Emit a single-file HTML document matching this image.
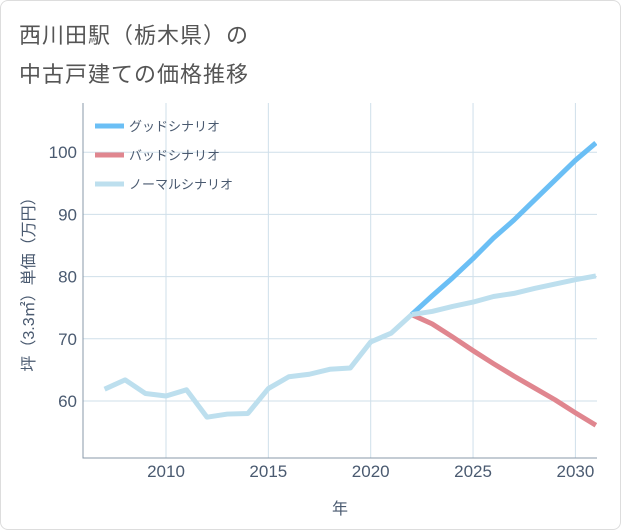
<!DOCTYPE html>
<html><head><meta charset="utf-8"><style>
body{margin:0;background:#fff;}
#frame{position:absolute;left:0;top:0;width:619px;height:528px;border:1px solid #ddd;border-radius:8px;background:#fff;overflow:hidden;}
.t{position:absolute;left:18px;font:22px "Liberation Sans","Noto Sans CJK JP",sans-serif;color:#555;letter-spacing:1px;}
svg{position:absolute;left:0;top:0;}
text{font-family:"Liberation Sans","Noto Sans CJK JP",sans-serif;}
</style></head><body>
<div id="frame">
<div class="t" style="top:17px">西川田駅（栃木県）の</div>
<div class="t" style="top:56px">中古戸建ての価格推移</div>
</div>
<svg id="c" width="621" height="530"></svg>
<script>
const years=[2007,2008,2009,2010,2011,2012,2013,2014,2015,2016,2017,2018,2019,2020,2021,2022];
const history=[61.9,63.4,61.2,60.8,61.8,57.4,57.9,58.0,62.0,63.9,64.3,65.1,65.3,69.5,70.9,73.9];
const futureYears=[2022,2023,2024,2025,2026,2027,2028,2029,2030,2031];
const good=[73.9,76.9,79.8,82.9,86.2,89.1,92.3,95.5,98.7,101.5];
const bad=[73.9,72.4,70.3,68.1,66.0,64.0,62.1,60.2,58.1,56.1];
const normal=[73.9,74.4,75.2,75.9,76.8,77.3,78.1,78.8,79.5,80.1];
const xTicks=[2010,2015,2020,2025,2030];
const yTicks=[60,70,80,90,100];
const legendLabels=['グッドシナリオ','バッドシナリオ','ノーマルシナリオ'];
const colors=['#6bbff5','#e0868f','#bddfee'];
const L=83,R=597,T=103,B=458;
const xs=y=>166+(y-2010)*20.47;
const ys=v=>401-(v-60)*6.22;
const svg=document.getElementById('c');const NS='http://www.w3.org/2000/svg';
function mk(t,a,p){const e=document.createElementNS(NS,t);for(const k in a)e.setAttribute(k,a[k]);(p||svg).appendChild(e);return e;}
const clip=mk('clipPath',{id:'cp'});mk('rect',{x:L,y:T,width:R-L,height:B-T},clip);
xTicks.forEach(v=>{const l=mk('line',{x1:xs(v),x2:xs(v),y1:T,y2:B,stroke:'#cfdfea','stroke-width':1});


const t=mk('text',{x:xs(v),y:B+19,'text-anchor':'middle','font-size':17,fill:'#4a5a70'});t.textContent=v;

});
yTicks.forEach(v=>{const l=mk('line',{x1:L,x2:R,y1:ys(v),y2:ys(v),stroke:'#cfdfea','stroke-width':1});


const t=mk('text',{x:L-6,y:ys(v)+6,'text-anchor':'end','font-size':17,fill:'#4a5a70'});t.textContent=v;

});
const ax=mk('path',{d:`M${L},${T}V${B}H${R}`,fill:'none',stroke:'#8899aa','stroke-width':1});


function line(xv,yv,c,name){const p=mk('polyline',{points:xv.map((x,i)=>xs(x)+','+ys(yv[i])).join(' '),fill:'none',stroke:c,'stroke-width':5,'stroke-linejoin':'round','clip-path':'url(#cp)'});

}
line(futureYears,bad,colors[1],'bad-scenario-line');
line(futureYears,good,colors[0],'good-scenario-line');
line(futureYears,normal,colors[2],'normal-scenario-line');
line(years,history,colors[2],'history-line');
legendLabels.forEach((s,i)=>{const y=126+i*29;
const l=mk('line',{x1:95,x2:124,y1:y,y2:y,stroke:colors[i],'stroke-width':5});


const t=mk('text',{x:129,y:y+5,'font-size':13,fill:'#4a5a70'});t.textContent=s;

});
const xt=mk('text',{x:(L+R)/2,y:514,'text-anchor':'middle','font-size':16,fill:'#4a5a70'});xt.textContent='年';


const yt=mk('text',{x:0,y:0,'text-anchor':'middle','font-size':16,fill:'#4a5a70',transform:`translate(34,${(T+B)/2}) rotate(-90)`});yt.textContent='坪（3.3㎡）単価（万円）';


</script>
</body></html>
